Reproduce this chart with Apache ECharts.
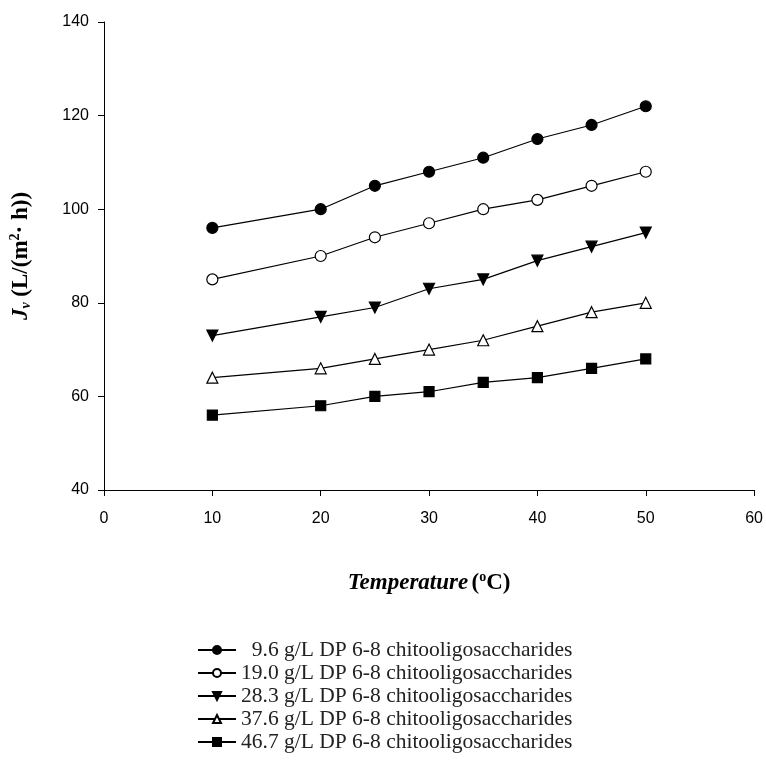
<!DOCTYPE html>
<html><head><meta charset="utf-8">
<script src="https://cdn.jsdelivr.net/npm/echarts@6/dist/echarts.min.js"></script>
<style>html,body{margin:0;padding:0;background:#fff}#c{width:766px;height:761px}</style>
</head><body><div id="c"></div>
<script>
const temperatures = [10, 20, 25, 30, 35, 40, 45, 50];
const s96 = [96, 100, 105, 108, 111, 115, 118, 122];
const s190 = [85, 90, 94, 97, 100, 102, 105, 108];
const s283 = [73, 77, 79, 83, 85, 89, 92, 95];
const s376 = [64, 66, 68, 70, 72, 75, 78, 80];
const s467 = [56, 58, 60, 61, 63, 64, 66, 68];
const seriesNames = [
  '  9.6 g/L DP 6-8 chitooligosaccharides',
  '19.0 g/L DP 6-8 chitooligosaccharides',
  '28.3 g/L DP 6-8 chitooligosaccharides',
  '37.6 g/L DP 6-8 chitooligosaccharides',
  '46.7 g/L DP 6-8 chitooligosaccharides'
];
const xTicks = [0, 10, 20, 30, 40, 50, 60];
const yTicks = [40, 60, 80, 100, 120, 140];

const values = [s96, s190, s283, s376, s467];
const symbols = ['circle', 'emptyCircle', 'triangle', 'emptyTriangle', 'rect'];
const symSizes = [11, 11, 11, 11, 10];
const series = values.map((v, i) => ({
  name: seriesNames[i],
  type: 'line',
  data: temperatures.map((t, j) => [t, v[j]]),
  symbol: symbols[i] === 'emptyTriangle' ? 'triangle' : (symbols[i] === 'emptyCircle' ? 'circle' : symbols[i]),
  symbolRotate: i === 2 ? 180 : 0,
  symbolSize: symSizes[i],
  lineStyle: {color: '#000', width: 1.2},
  itemStyle: {color: (symbols[i].startsWith('empty')) ? '#fff' : '#000', borderColor: '#000', borderWidth: 1.2},
  emphasis: {disabled: true},
  animation: false
}));

const chart = echarts.init(document.getElementById('c'));
chart.setOption({
  backgroundColor: '#fff',
  animation: false,
  grid: {left: 104, right: 11, top: 22, bottom: 271, containLabel: false},
  xAxis: {
    type: 'value', min: xTicks[0], max: xTicks[xTicks.length - 1], interval: 10,
    axisLine: {lineStyle: {color: '#000', width: 1}},
    axisTick: {inside: false, length: 6, lineStyle: {color: '#000'}},
    axisLabel: {color: '#000', fontFamily: 'Liberation Sans, Arial', fontSize: 16, margin: 21},
    splitLine: {show: false},
    name: '{b|Temperature} {n|(}{s|o}{n|C)}',
    nameLocation: 'middle', nameGap: 80,
    nameTextStyle: {
      rich: {
        b: {fontFamily: 'Liberation Serif', fontSize: 23, fontWeight: 'bold', fontStyle: 'italic', color: '#000'},
        n: {fontFamily: 'Liberation Serif', fontSize: 23, fontWeight: 'bold', color: '#000'},
        s: {fontFamily: 'Liberation Serif', fontSize: 14, fontWeight: 'bold', color: '#000', padding: [0, 0, 12, 0]}
      }
    }
  },
  yAxis: {
    type: 'value', min: yTicks[0], max: yTicks[yTicks.length - 1], interval: 20,
    axisLine: {show: true, lineStyle: {color: '#000', width: 1}},
    axisTick: {show: true, inside: false, length: 6, lineStyle: {color: '#000'}},
    axisLabel: {color: '#000', fontFamily: 'Liberation Sans, Arial', fontSize: 16, margin: 15},
    splitLine: {show: false},
    name: '{j|J}{v|v}{n| (L/(m}{s|2}{n|· h))}',
    nameLocation: 'middle', nameGap: 70, nameRotate: 90,
    nameTextStyle: {
      rich: {
        j: {fontFamily: 'Liberation Serif', fontSize: 23, fontWeight: 'bold', fontStyle: 'italic', color: '#000'},
        v: {fontFamily: 'Liberation Serif', fontSize: 14, fontWeight: 'bold', fontStyle: 'italic', color: '#000', padding: [10, 0, 0, 0]},
        n: {fontFamily: 'Liberation Serif', fontSize: 23, fontWeight: 'bold', color: '#000'},
        s: {fontFamily: 'Liberation Serif', fontSize: 14, fontWeight: 'bold', color: '#000', padding: [0, 0, 12, 0]}
      }
    }
  },
  legend: {
    orient: 'vertical', left: 192, top: 634, height: 300, itemGap: 1,
    itemWidth: 38, itemHeight: 10,
    textStyle: {fontFamily: 'Liberation Serif', fontSize: 21.5, color: '#222'},
    selectedMode: false,
    data: seriesNames
  },
  series: series
});
</script></body></html>
